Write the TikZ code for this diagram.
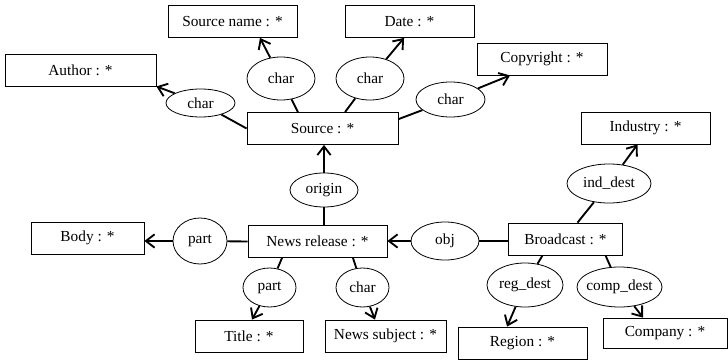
\documentclass[tikz,border=0pt]{standalone}
\usepackage{fontspec}
\setmainfont{Liberation Serif}
\usetikzlibrary{shapes.geometric,arrows.meta}

\tikzset{
  box/.style={draw, line width=0.6pt, rectangle, minimum height=24pt, inner sep=0pt},
  rel/.style={draw, line width=0.6pt, ellipse, inner sep=0pt},
  link/.style={line width=1.4pt},
  arr/.style={line width=1.4pt, -{Straight Barb[length=6.5pt,width=10pt]}}
}

\begin{document}
\begin{tikzpicture}[x=0.75pt,y=-0.75pt,font=\fontsize{11.5}{13}\selectfont]
\useasboundingbox (0,0) rectangle (728,360);

% concepts
\node[box, minimum width=96.75pt] (srcname) at (232.5,21.5) {Source name : *};
\node[box, minimum width=113.25pt] (author) at (80.5,70) {Author : *};
\node[box, minimum width=113.25pt] (source) at (322.5,128.5) {Source : *};
\node[box, minimum width=96.75pt] (date) at (409.5,21.5) {Date : *};
\node[box, minimum width=97.5pt] (copyright) at (542,59) {Copyright : *};
\node[box, minimum width=96.75pt] (industry) at (645.5,128) {Industry : *};
\node[box, minimum width=84.75pt] (body) at (87.5,238) {Body : *};
\node[box, minimum width=104.25pt] (newsrel) at (317.5,241.5) {News release : *};
\node[box, minimum width=85.5pt] (broadcast) at (565.5,239) {Broadcast : *};
\node[box, minimum width=81pt] (title) at (249,336) {Title : *};
\node[box, minimum width=90.75pt] (subject) at (385.5,336) {News subject : *};
\node[box, minimum width=96.75pt] (region) at (522.5,343) {Region : *};
\node[box, minimum width=93pt, minimum height=22.5pt] (company) at (665,333) {Company : *};

% relations
\node[rel, minimum width=51.75pt, minimum height=21pt] (charA) at (200.5,103) {char};
\node[rel, minimum width=51pt, minimum height=32.25pt] (charSN) at (281,78.5) {char};
\node[rel, minimum width=51pt, minimum height=32.25pt] (charD) at (370,78.5) {char};
\node[rel, minimum width=51.75pt, minimum height=26.25pt] (charC) at (450.5,99.5) {char};
\node[rel, minimum width=51pt, minimum height=25.5pt] (origin) at (324,190) {origin};
\node[rel, minimum width=40.5pt, minimum height=34.5pt] (partB) at (200,241) {part};
\node[rel, minimum width=39.75pt, minimum height=29.25pt] (partT) at (269.5,287.5) {part};
\node[rel, minimum width=39.75pt, minimum height=29.25pt] (charS) at (362.5,287.5) {char};
\node[rel, minimum width=51pt, minimum height=28.5pt] (obj) at (445,241) {obj};
\node[rel, minimum width=63pt, minimum height=29.25pt] (ind) at (609,183.5) {ind\_dest};
\node[rel, minimum width=57pt, minimum height=33pt] (reg) at (525,285) {reg\_dest};
\node[rel, minimum width=63.75pt, minimum height=30pt, inner xsep=-2.5pt] (comp) at (619.5,287) {comp\_dest};

% links
\draw[link] (source.west) -- (charA);
\draw[arr] (charA) -- (author.south east);

\draw[link] ([xshift=-18.4pt]source.north) -- (charSN);
\draw[arr] (charSN) -- ([xshift=20.6pt]srcname.south);

\draw[link] ([xshift=16.9pt]source.north) -- (charD);
\draw[arr] (charD) -- ([xshift=-4.1pt]date.south);

\draw[link] ([yshift=7pt]source.east) -- (charC);
\draw[arr] (charC) -- ([xshift=-24pt]copyright.south);

\draw[link] (origin) -- (origin |- newsrel.north);
\draw[arr] (origin) -- (origin |- source.south);

\draw[link] (newsrel.west) -- (partB);
\draw[arr] (partB) -- (partB -| body.east);

\draw[link] ([xshift=-26.6pt]newsrel.south) -- (partT);
\draw[arr] (partT) -- ([xshift=2.25pt]title.north);

\draw[link] ([xshift=26.6pt]newsrel.south) -- (charS);
\draw[arr] (charS) -- ([xshift=-7.9pt]subject.north);

\draw[link] (obj -| broadcast.west) -- (obj);
\draw[arr] (obj) -- (obj -| newsrel.east);

\draw[link] ([xshift=9pt]broadcast.north) -- (ind);
\draw[arr] (ind) -- ([xshift=-6pt]industry.south);

\draw[link] ([xshift=-17.25pt]broadcast.south) -- (reg);
\draw[arr] (reg) -- ([xshift=-11.6pt]region.north);

\draw[link] ([xshift=30pt]broadcast.south) -- (comp);
\draw[arr] (comp) -- ([xshift=-16.5pt]company.north);
\end{tikzpicture}
\end{document}
